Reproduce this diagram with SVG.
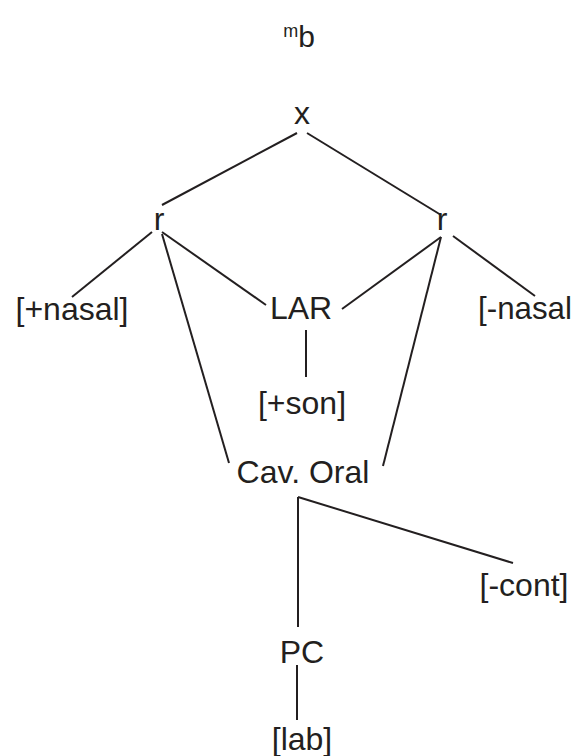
<svg xmlns="http://www.w3.org/2000/svg" width="573" height="756" viewBox="0 0 573 756">
<style>
text{font-family:"Liberation Sans",Arial,sans-serif;font-size:32px;fill:#231f20;text-anchor:middle}
line{stroke:#231f20;stroke-width:2;stroke-linecap:butt}
</style>
<rect width="573" height="756" fill="#fff"/>
<g id="title"><text x="299" y="47"><tspan font-size="18" dy="-10">m</tspan><tspan font-size="30" dy="10">b</tspan></text></g>
<g id="connectors">
<line x1="297" y1="133" x2="162" y2="205"/>
<line x1="307" y1="133" x2="441" y2="215"/>
<line x1="152" y1="232" x2="72" y2="297"/>
<line x1="162" y1="232" x2="266" y2="305"/>
<line x1="162" y1="234" x2="229" y2="463"/>
<line x1="441" y1="237" x2="342" y2="309"/>
<line x1="441" y1="237" x2="383" y2="466"/>
<line x1="453" y1="236" x2="535" y2="296"/>
<line x1="306" y1="330" x2="306" y2="377"/>
<line x1="298" y1="497" x2="298" y2="627"/>
<line x1="298" y1="497" x2="513" y2="563"/>
<line x1="297" y1="665" x2="297" y2="720"/>
</g>
<g id="x"><text x="302" y="124">x</text></g>
<g id="r-left"><text x="159" y="230">r</text></g>
<g id="r-right"><text x="442" y="230">r</text></g>
<g id="nasal-plus"><text x="72" y="320">[+nasal]</text></g>
<g id="lar"><text x="301" y="319">LAR</text></g>
<g id="nasal-minus"><text x="478" y="319" style="text-anchor:start" textLength="94" lengthAdjust="spacingAndGlyphs">[-nasal</text></g>
<g id="son"><text x="302" y="414">[+son]</text></g>
<g id="cav-oral"><text x="303" y="483">Cav. Oral</text></g>
<g id="cont"><text x="524" y="596">[-cont]</text></g>
<g id="pc"><text x="302" y="663">PC</text></g>
<g id="lab"><text x="302" y="750">[lab]</text></g>
</svg>
